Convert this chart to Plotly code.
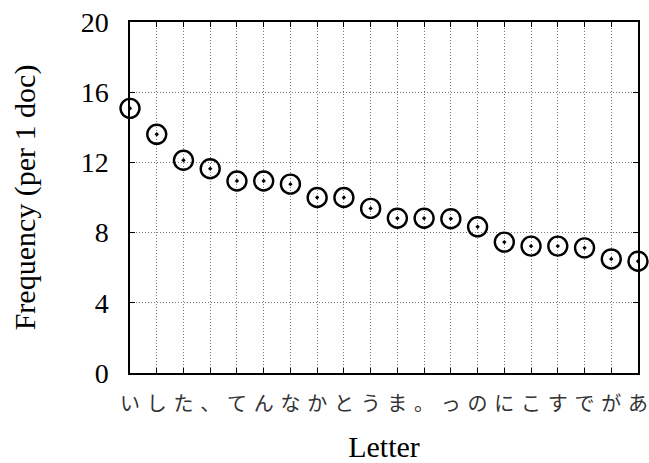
import plotly.graph_objects as go

letters = ["い", "し", "た", "、", "て", "ん", "な", "か", "と", "う",
           "ま", "。", "っ", "の", "に", "こ", "す", "で", "が", "あ"]
frequency = [15.08, 13.6, 12.12, 11.64, 10.94, 10.94, 10.76, 10.0, 10.0, 9.38,
             8.82, 8.82, 8.79, 8.33, 7.46, 7.23, 7.23, 7.13, 6.5, 6.37]
y_ticks = [0, 4, 8, 12, 16, 20]

idx = list(range(len(letters)))

fig = go.Figure()
fig.add_trace(go.Scatter(
    x=idx, y=frequency, mode="markers",
    marker=dict(symbol="circle-open-dot", size=19, color="black",
                line=dict(width=2.4, color="black")),
    cliponaxis=False, showlegend=False,
))

fig.update_layout(
    width=649, height=463,
    margin=dict(l=130, r=11, t=22, b=90, autoexpand=False),
    paper_bgcolor="white", plot_bgcolor="white",
    font=dict(family="Liberation Serif", size=28, color="black"),
    xaxis=dict(
        range=[0, 19], tickmode="array", tickvals=idx, ticktext=letters,
        tickfont=dict(family="Noto Sans CJK JP", size=20, color="#333"),
        ticklabelstandoff=12, automargin=False,
        showgrid=True, gridcolor="#777", griddash="1px,2px", gridwidth=1,
        ticks="inside", ticklen=5, tickcolor="black",
        showline=True, linecolor="black", linewidth=1.5, mirror="ticks",
        zeroline=False,
        title=dict(text="Letter", font=dict(family="Liberation Serif", size=30), standoff=20),
    ),
    yaxis=dict(
        range=[0, 20], tickmode="array", tickvals=y_ticks,
        tickfont=dict(family="Liberation Serif", size=28),
        ticklabelstandoff=14, automargin=False,
        showgrid=True, gridcolor="#777", griddash="1px,2px", gridwidth=1,
        ticks="inside", ticklen=5, tickcolor="black",
        showline=True, linecolor="black", linewidth=1.5, mirror="ticks",
        zeroline=False,
        title=dict(text="Frequency (per 1 doc)", font=dict(family="Liberation Serif", size=30), standoff=36),
    ),
)

fig.write_html("out.html", config={"displayModeBar": False},
               post_script="document.body.style.margin='0';")
